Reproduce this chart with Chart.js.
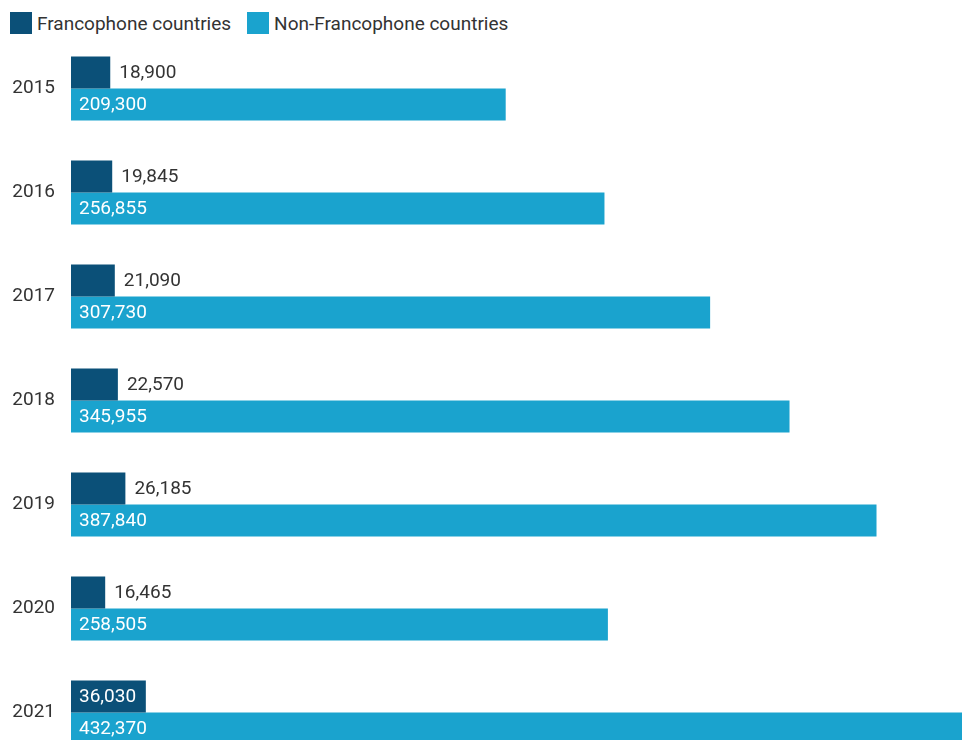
<!DOCTYPE html>
<html>
<head>
<meta charset="utf-8">
<script src="https://cdn.jsdelivr.net/npm/chart.js@4.4.1/dist/chart.umd.min.js"></script>
<style>
  html, body { margin: 0; padding: 0; background: #fff; overflow: hidden; width: 962px; height: 740px; }
  #legend { position: absolute; left: 10px; top: 12px; font-family: Roboto, sans-serif; font-size: 19px; color: #333; display: flex; }
  #legend .item { display: flex; align-items: center; margin-right: 16px; height: 22px; }
  #legend .box { width: 22px; height: 22px; margin-right: 5px; }
  /* the y axis adds label half-height + tick padding above and below the bars,
     so the canvas starts higher than the first band */
  #wrap { position: absolute; left: 0; top: 9px; width: 972px; height: 783px; }
</style>
</head>
<body>
<div id="legend"></div>
<div id="wrap"><canvas id="barChart"></canvas></div>
<script>
const years = ['2015', '2016', '2017', '2018', '2019', '2020', '2021'];
const francophone = [18900, 19845, 21090, 22570, 26185, 16465, 36030];
const nonFrancophone = [209300, 256855, 307730, 345955, 387840, 258505, 432370];
const seriesNames = ['Francophone countries', 'Non-Francophone countries'];
const colors = ['#0b5078', '#1aa3ce'];

const labelFont = '19px Roboto, sans-serif';

// html legend
const legend = document.getElementById('legend');
seriesNames.forEach((name, i) => {
    const item = document.createElement('div');
    item.className = 'item';
    item.innerHTML = '<span class="box" style="background:' + colors[i] + '"></span><span>' + name + '</span>';
    legend.appendChild(item);
});

// value labels: inside the bar if it fits, otherwise just after it
const valueLabels = {
    id: 'valueLabels',
    afterDatasetsDraw(chart) {
        const ctx = chart.ctx;
        ctx.save();
        ctx.font = labelFont;
        ctx.textBaseline = 'middle';
        ctx.textAlign = 'left';
        chart.data.datasets.forEach((ds, di) => {
            chart.getDatasetMeta(di).data.forEach((bar, i) => {
                const text = ds.data[i].toLocaleString('en-US');
                const w = ctx.measureText(text).width;
                const barW = bar.x - bar.base;
                if (w + 16 <= barW) {
                    ctx.fillStyle = '#ffffff';
                    ctx.fillText(text, bar.base + 8, bar.y + 1);
                } else {
                    ctx.fillStyle = '#333333';
                    ctx.fillText(text, bar.x + 9, bar.y + 1);
                }
            });
        });
        ctx.restore();
    }
};

const ctx_bar = document.getElementById('barChart').getContext('2d');
const barChart = new Chart(ctx_bar, {
    type: 'bar',
    data: {
        labels: years,
        datasets: [{
            label: seriesNames[0],
            data: francophone,
            backgroundColor: colors[0],
            borderWidth: 0
        }, {
            label: seriesNames[1],
            data: nonFrancophone,
            backgroundColor: colors[1],
            borderWidth: 0
        }]
    },
    options: {
        indexAxis: 'y',
        responsive: true,
        maintainAspectRatio: false,
        animation: false,
        layout: { padding: { left: 0, right: 3, top: 0, bottom: 0 } },
        datasets: {
            bar: { categoryPercentage: 64 / 104, barPercentage: 1 }
        },
        scales: {
            x: {
                display: false,
                min: 0,
                max: Math.max(...nonFrancophone)
            },
            y: {
                grid: { display: false, drawTicks: false },
                border: { display: false },
                ticks: {
                    color: '#333',
                    font: { family: 'Roboto, sans-serif', size: 19 },
                    padding: 16
                },
                afterFit(scale) { scale.width = 71; }
            }
        },
        plugins: {
            legend: { display: false },
            tooltip: { enabled: false }
        }
    },
    plugins: [valueLabels]
});
</script>
</body>
</html>
